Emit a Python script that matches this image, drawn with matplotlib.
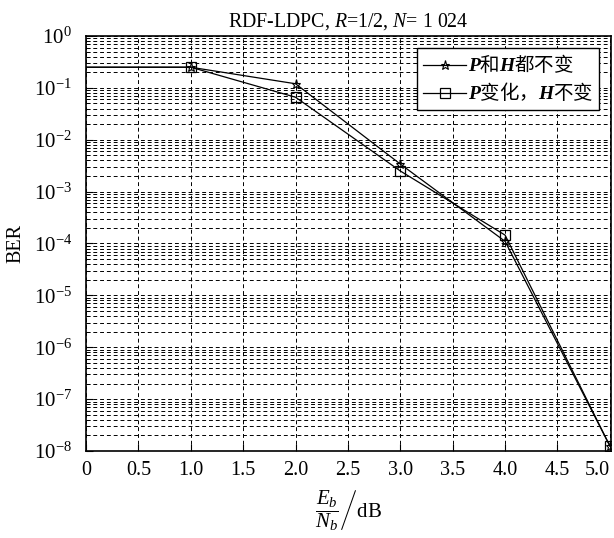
import numpy as np
import matplotlib
matplotlib.use("Agg")
import matplotlib.pyplot as plt
from matplotlib.ticker import LogLocator, NullFormatter

plt.rcParams["font.family"] = ["Liberation Serif", "Noto Sans CJK SC"]
plt.rcParams["mathtext.fontset"] = "custom"
plt.rcParams["mathtext.rm"] = "Liberation Serif"
plt.rcParams["mathtext.it"] = "Liberation Serif:italic"
plt.rcParams["mathtext.bf"] = "Liberation Serif:bold:italic"

# Eb/Nb (dB) and BER
snr = [0, 1, 2, 3, 4, 5]
ber_fixed = [0.25, 0.25, 0.12, 0.0034, 1.1e-4, 1.25e-8]
ber_p_var = [0.25, 0.25, 0.066, 0.0025, 1.45e-4, 1.25e-8]

labels = [r"$\mathbf{P}$和$\mathbf{H}$都不变", r"$\mathbf{P}$变化，$\mathbf{H}$不变"]
xticks = [0, 0.5, 1.0, 1.5, 2.0, 2.5, 3.0, 3.5, 4.0, 4.5, 5.0]
xticklabels = ["0", "0.5", "1.0", "1.5", "2.0", "2.5", "3.0", "3.5", "4.0", "4.5", "5.0"]


def main():
    fig = plt.figure(figsize=(6.14, 5.38), dpi=100)
    ax = fig.add_axes([0.140, 0.1617, 0.855, 0.7714])

    ax.semilogy(snr, ber_fixed, color="black", lw=0.9, marker="*",
                ms=6.5, mfc="none", mew=0.8, markevery=[1, 2, 3, 4, 5],
                label=labels[0])
    ax.semilogy(snr, ber_p_var, color="black", lw=0.9, marker="s",
                ms=6.5, mfc="none", mew=0.9, markevery=[1, 2, 3, 4, 5],
                label=labels[1])

    ax.set_xlim(0, 5.01)
    ax.set_ylim(1e-8, 1)
    ax.set_xticks(xticks)
    ax.set_xticklabels(xticklabels)
    # last label sits against the figure edge, keep it inside
    ax.get_xticklabels()[-1].set_horizontalalignment("right")
    ax.yaxis.set_major_locator(LogLocator(base=10, numticks=20))
    ax.yaxis.set_minor_locator(LogLocator(base=10, subs=np.arange(2, 10), numticks=20))
    ax.yaxis.set_minor_formatter(NullFormatter())

    ax.tick_params(direction="in", which="both")
    ax.tick_params(axis="x", which="major", length=5, labelsize=14.5, pad=7)
    ax.tick_params(axis="y", which="major", length=5, labelsize=15, pad=10)
    ax.tick_params(which="minor", length=3)
    ax.grid(True, which="both", axis="y", ls=(0, (4, 3)), color="black", lw=0.7)
    ax.grid(True, which="major", axis="x", ls=(0, (4, 3)), color="black", lw=0.7)
    for s in ax.spines.values():
        s.set_linewidth(1.2)

    ax.set_title(r"RDF-LDPC, $R$=1/2, $N$= 1 024", fontsize=14.3, pad=7)
    ax.set_ylabel("BER", fontsize=14.5, labelpad=6)
    ax.set_xlabel(r"$\left.\dfrac{E_b}{N_b}\right/\mathrm{dB}$", fontsize=15, labelpad=6)

    leg = ax.legend(loc="upper right", fancybox=False, framealpha=1,
                    prop={"family": "Noto Sans CJK SC", "size": 14},
                    edgecolor="black", borderaxespad=0.6, handlelength=2.2,
                    handletextpad=0.1, borderpad=0.3, labelspacing=0.25)
    leg.get_frame().set_linewidth(1.0)

    fig.savefig("out.png", dpi=100)


if __name__ == "__main__":
    main()
